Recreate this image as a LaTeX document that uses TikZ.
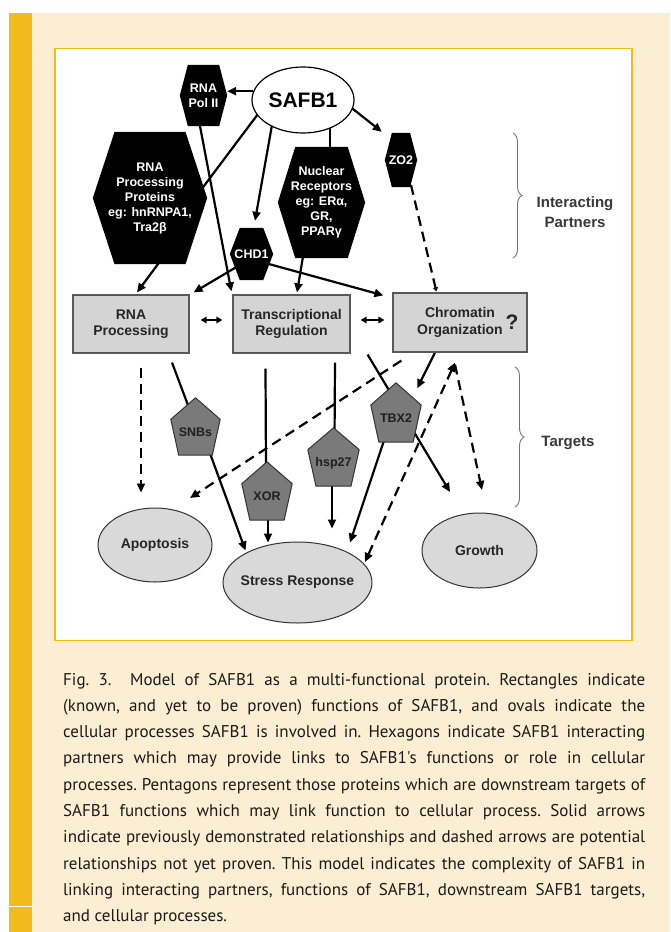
\documentclass[tikz,border=0pt]{standalone}
\usepackage{fontspec}
\newfontfamily\dfont{Liberation Sans}
\newfontfamily\capfont{PT Sans}
\usetikzlibrary{arrows.meta,calc,decorations.pathreplacing,shapes.geometric}
\pgfdeclarelayer{back}\pgfdeclarelayer{conn}\pgfdeclarelayer{mid}
\pgfsetlayers{back,conn,mid,main}
\definecolor{yel}{HTML}{F1BC1A}
\definecolor{cream}{HTML}{FBEED2}
\definecolor{boxgray}{HTML}{D4D4D4}
\definecolor{ovalgray}{HTML}{D9D9D9}
\definecolor{pentgray}{HTML}{7A7A7A}
\definecolor{capcol}{HTML}{1A1A1A}
\newcommand\hexfill[2]{\fill[black] ($(#1.north west)!#2!(#1.north east)$) -- ($(#1.north east)!#2!(#1.north west)$) -- (#1.east) -- ($(#1.south east)!#2!(#1.south west)$) -- ($(#1.south west)!#2!(#1.south east)$) -- (#1.west) -- cycle;}
\newcommand\pentfill[1]{\filldraw[fill=pentgray, draw=black!80, line width=1pt, line join=round] (#1.north) -- ($(#1.north west)!0.375!(#1.south west)$) -- ($(#1.south west)!0.16!(#1.south east)$) -- ($(#1.south east)!0.16!(#1.south west)$) -- ($(#1.north east)!0.375!(#1.south east)$) -- cycle;}
\begin{document}
\begin{tikzpicture}[x=1pt,y=-1pt,
  conn/.style={line width=2.2pt, draw=black},
  tipa/.style={-{Triangle[length=9pt,width=8pt]}},
  arr/.style={conn, tipa},
  darrs/.style={line width=2pt, {Triangle[length=6pt,width=6.5pt]}-{Triangle[length=6pt,width=6.5pt]}},
  dsh/.style={conn, dash pattern=on 10pt off 6pt},
  hexnode/.style={rectangle, inner sep=0pt, text=white, align=center, font=\dfont\bfseries\fontsize{12.5}{15}\selectfont},
  pentnode/.style={rectangle, inner sep=0pt, text=black!88, text height=19pt, text depth=0pt, font=\dfont\bfseries\fontsize{12.5}{15}\selectfont},
  func/.style={rectangle, draw=black!65, line width=1.2pt, fill=boxgray, inner sep=0pt, align=center, text=black!85, font=\dfont\bfseries\fontsize{14}{16.5}\selectfont},
  proc/.style={ellipse, draw=black!80, line width=1pt, fill=ovalgray, inner sep=0pt, text=black!85, font=\dfont\bfseries\fontsize{14}{16}\selectfont},
  lab/.style={text=black!78, align=center, font=\dfont\bfseries\fontsize{15}{20}\selectfont},
  captext/.style={anchor=base west, inner sep=0pt, text=capcol, font=\capfont\fontsize{17}{20}\selectfont\frenchspacing},
  brc/.style={draw=black!55, line width=0.9pt, decorate, decoration={brace, amplitude=9pt}}
]
\useasboundingbox (0,0) rectangle (670,932);
\begin{pgfonlayer}{back}
  \fill[white] (0,0) rectangle (670,932);
  \fill[cream] (32,13) rectangle (670,932);
  \fill[yel] (8.5,13) rectangle (32,932);
  \fill[white] (8.5,905.5) rectangle (32,906.5);
  \draw[yel, line width=1.6pt, fill=white] (55,48.5) rectangle (632,640.5);
\end{pgfonlayer}

% interacting partners
\node[ellipse, draw=black, line width=1.2pt, fill=white, minimum width=102pt, minimum height=66pt, inner sep=0pt, font=\dfont\bfseries\fontsize{21}{24}\selectfont] (safb) at (303,100) {\makebox[0pt]{SAFB1}};
\node[hexnode, minimum width=47pt, minimum height=61pt] (rnapol) at (203.5,95.5) {RNA\\Pol II};
\node[hexnode, minimum width=114pt, minimum height=132pt] (rpp) at (150,198) {RNA\\Processing\\Proteins\\eg: hnRNPA1,\\Tra2β};
\node[hexnode, minimum width=87pt, minimum height=111pt] (nr) at (321.5,202.5) {Nuclear\\Receptors\\eg: ERα,\\GR,\\PPARγ};
\node[hexnode, minimum width=43pt, minimum height=52pt] (chd) at (251.5,254) {CHD1};
\node[hexnode, minimum width=32pt, minimum height=54pt] (zo2) at (401,160) {ZO2};

% functions
\node[func, minimum width=116pt, minimum height=58pt] (rnaproc) at (131,324) {RNA\\Processing};
\node[func, minimum width=117pt, minimum height=58pt] (trans) at (291.5,324) {Transcriptional\\Regulation};
\node[func, minimum width=134pt, minimum height=59pt] (chrom) at (460,322.5) {Chromatin\\Organization};
\node[inner sep=0pt, text=black!85, font=\dfont\bfseries\fontsize{21}{24}\selectfont] (q) at (512,322) {?};

% targets
\node[pentnode, minimum width=49pt, minimum height=57pt] (snbs) at (195.5,426.5) {SNBs};
\node[pentnode, minimum width=50pt, minimum height=58pt] (xor) at (267,491) {XOR};
\node[pentnode, minimum width=51pt, minimum height=58pt] (hsp) at (333.5,457) {hsp27};
\node[pentnode, minimum width=50pt, minimum height=59pt] (tbx) at (396,412.5) {TBX2};

% processes
\node[proc, minimum width=114pt, minimum height=74pt] (apop) at (155,545) {\makebox[0pt]{Apoptosis}};
\node[proc, minimum width=149pt, minimum height=81pt] (stress) at (297.5,582.5) {\makebox[0pt]{Stress Response}};
\node[proc, minimum width=115pt, minimum height=75pt] (growth) at (479.5,550.5) {\makebox[0pt]{Growth}};

% labels
\node[lab] (ip) at (575,212) {Interacting\\Partners};
\node[lab] (tg) at (568,443) {Targets};
\draw[brc] (513,133) -- (513,258);
\draw[brc] (515,367) -- (515,507);

\begin{pgfonlayer}{mid}
  \hexfill{rnapol}{0.17}
  \hexfill{rpp}{0.19}
  \hexfill{nr}{0.2}
  \hexfill{chd}{0.23}
  \hexfill{zo2}{0.22}
  \pentfill{snbs}
  \pentfill{xor}
  \pentfill{hsp}
  \pentfill{tbx}
\end{pgfonlayer}

\begin{pgfonlayer}{conn}
  \draw[arr] (safb.170) -- (safb.170 -| rnapol.east);
  \draw[conn] ($(safb)+(-45,14)$) -- ($(rpp.east)+(-4,-11)$);
  \draw[arr] ($(safb)+(-31,25)$) -- ($(chd.north)+(3.5,-7)$);
  \draw[conn] ($(safb)+(27,20)$) -- ($(nr.north)+(8.5,5)$);
  \draw[arr] ($(safb)+(45,5)$) -- ($(zo2.north west)+(-3,-1)$);
  \draw[arr] ($(rnapol)+(-4,28)$) -- ($(trans.north west)+(-1,-3)$);
  \draw[arr] ($(rpp)+(11,62)$) -- ($(rnaproc.north)+(6,-2)$);
  \draw[arr] ($(chd)+(-10,10)$) -- ($(rnaproc.north east)+(4,-2)$);
  \draw[arr] ($(chd)+(10,8)$) -- ($(chrom.north west)+(-9,3)$);
  \draw[arr] ($(nr)+(-17,45)$) -- ($(trans.north)+(5.5,-2)$);
  \draw[dsh, -{Triangle[length=4pt,width=5pt]}] ($(zo2)+(10,25)$) -- ($(chrom.north west)+(44,-1)$);
  \draw[darrs] ($(rnaproc.east)+(11,-4)$) -- ($(trans.west)+(-10,-4)$);
  \draw[darrs] ($(trans.east)+(10,-4)$) -- ($(chrom.west)+(-8,-2.5)$);
  \draw[dsh, tipa] ($(rnaproc.south)+(10,14)$) -- ($(apop.north)+(-14,-15)$);
  \draw[conn] ($(rnaproc.south)+(41,9)$) -- ($(snbs)+(-7,-20)$);
  \draw[arr] ($(snbs)+(12,20)$) -- ($(stress)+(-52,-32)$);
  \draw[conn] ($(trans.south)+(-26,15)$) -- ($(xor)+(-1,-20)$);
  \draw[arr] ($(xor)+(1,20)$) -- ($(stress)+(-29.5,-40)$);
  \draw[conn] ($(trans.south)+(43.5,9)$) -- ($(hsp)+(1,-15)$);
  \draw[arr] ($(hsp)+(-1.5,20)$) -- ($(stress)+(34.5,-54)$);
  \draw[arr] ($(trans.south east)+(17,1)$) -- ($(growth)+(-29.5,-58.5)$);
  \draw[arr] ($(chrom.south)+(-25,0)$) -- ($(tbx.north east)+(-4,5.5)$);
  \draw[arr] ($(tbx)+(-11,25)$) -- ($(stress)+(52.5,-40)$);
  \draw[dsh, tipa] ($(chrom.south west)+(9,8)$) -- ($(apop)+(35,-47)$);
  \draw[dsh, {Triangle[length=9pt,width=8pt]}-{Triangle[length=9pt,width=8pt]}] ($(stress)+(67.5,-20.5)$) -- ($(chrom.south)+(-5,10)$);
  \draw[dsh, tipa] ($(chrom.south)+(-5,12)$) -- ($(growth)+(2.5,-60.5)$);
\end{pgfonlayer}

% caption
\node[captext] (c1) at (63,685) {\makebox[582pt][s]{Fig. 3.\hspace{1.1em}Model of SAFB1 as a multi-functional protein. Rectangles indicate}};
\node[captext] (c2) at (63,711.3) {\makebox[582pt][s]{(known, and yet to be proven) functions of SAFB1, and ovals indicate the}};
\node[captext] (c3) at (63,737.6) {\makebox[582pt][s]{cellular processes SAFB1 is involved in. Hexagons indicate SAFB1 interacting}};
\node[captext] (c4) at (63,763.9) {\makebox[582pt][s]{partners which may provide links to SAFB1's functions or role in cellular}};
\node[captext] (c5) at (63,790.2) {\makebox[582pt][s]{processes. Pentagons represent those proteins which are downstream targets of}};
\node[captext] (c6) at (63,816.5) {\makebox[582pt][s]{SAFB1 functions which may link function to cellular process. Solid arrows}};
\node[captext] (c7) at (63,842.8) {\makebox[582pt][s]{indicate previously demonstrated relationships and dashed arrows are potential}};
\node[captext] (c8) at (63,869.1) {\makebox[582pt][s]{relationships not yet proven. This model indicates the complexity of SAFB1 in}};
\node[captext] (c9) at (63,895.4) {\makebox[582pt][s]{linking interacting partners, functions of SAFB1, downstream SAFB1 targets,}};
\node[captext] (c10) at (63,921.7) {and cellular processes.};
\end{tikzpicture}
\end{document}
